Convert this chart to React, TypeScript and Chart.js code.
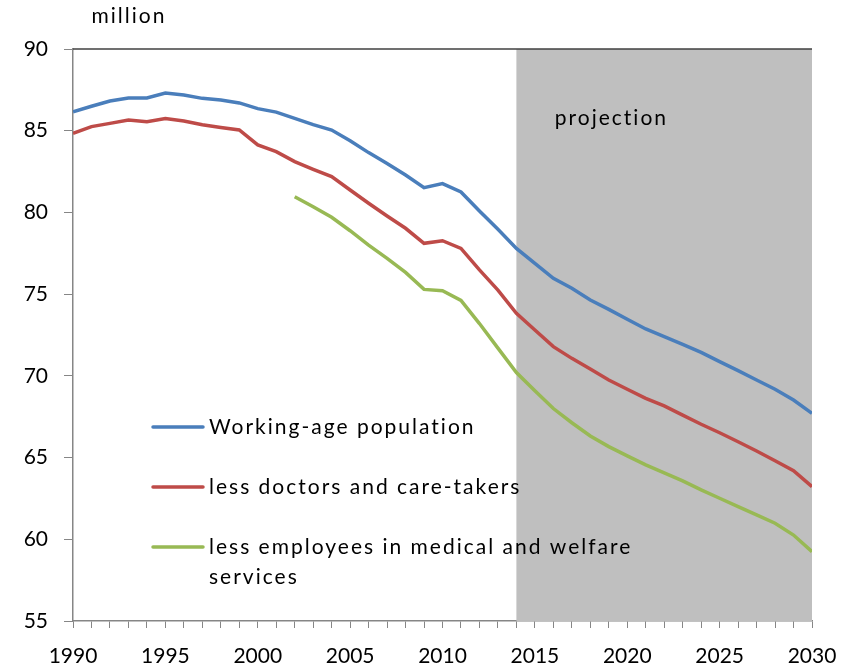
import React, { useEffect, useRef } from "react";
import { Chart, registerables } from "chart.js";

Chart.register(...registerables);

const years: number[] = [];
for (let y = 1990; y <= 2030; y++) years.push(y);

const workingAge = [
  86.16, 86.5, 86.82, 87.0, 87.0, 87.3, 87.19, 86.98, 86.88, 86.7,
  86.35, 86.14, 85.76, 85.37, 85.04, 84.39, 83.66, 83.0, 82.29, 81.51,
  81.76, 81.25, 80.09, 78.97, 77.8, 76.88, 75.97, 75.36, 74.64, 74.07,
  73.46, 72.87, 72.4, 71.93, 71.44, 70.87, 70.32, 69.75, 69.18, 68.52, 67.71,
];
const lessDoctors = [
  84.84, 85.25, 85.45, 85.65, 85.55, 85.74, 85.59, 85.36, 85.2, 85.05,
  84.13, 83.72, 83.11, 82.64, 82.19, 81.37, 80.56, 79.78, 79.03, 78.11,
  78.27, 77.8, 76.48, 75.25, 73.83, 72.81, 71.79, 71.07, 70.42, 69.75,
  69.18, 68.62, 68.16, 67.6, 67.04, 66.52, 65.97, 65.4, 64.81, 64.2, 63.22,
];
const lessEmployees: (number | null)[] = [
  null, null, null, null, null, null, null, null, null, null,
  null, null, 80.96, 80.35, 79.7, 78.88, 78.0, 77.19, 76.33, 75.29,
  75.21, 74.62, 73.2, 71.7, 70.2, 69.09, 68.0, 67.13, 66.32, 65.67,
  65.1, 64.55, 64.07, 63.57, 63.02, 62.51, 62.0, 61.49, 60.98, 60.26, 59.24,
];

const seriesLabels = [
  "Working-age population",
  "less doctors and care-takers",
  "less employees in medical and welfare",
];
const seriesLabelExtra = "services";
const seriesColors = ["#4a7ebb", "#be4b48", "#98b954"];
const projectionStart = 2014;
const projectionEnd = 2030;
const projectionLabel = "projection";
const unitLabel = "million";

const FONT = "Lato, 'Open Sans', sans-serif";

export default function App() {
  const ref = useRef<HTMLCanvasElement | null>(null);
  useEffect(() => {
    if (!ref.current) return;
    const mk = (vals: (number | null)[]) =>
      years.map((y, i) => ({ x: y, y: vals[i] as number })).filter((p) => p.y !== null);

    const bgPlugin = {
      id: "projection",
      beforeDatasetsDraw(chart: any) {
        const { ctx, chartArea, scales } = chart;
        const x0 = scales.x.getPixelForValue(projectionStart);
        const x1 = scales.x.getPixelForValue(projectionEnd);
        ctx.save();
        ctx.fillStyle = "#bfbfbf";
        ctx.fillRect(x0, chartArea.top, x1 - x0, chartArea.bottom - chartArea.top);
        ctx.fillStyle = "#000";
        ctx.font = `21px ${FONT}`;
        (ctx as any).letterSpacing = "2px";
        ctx.textAlign = "center";
        ctx.textBaseline = "middle";
        ctx.fillText(projectionLabel, x0 + 95, chartArea.top + 69);
        // top border
        ctx.strokeStyle = "#404040";
        ctx.lineWidth = 1.5;
        ctx.beginPath();
        ctx.moveTo(chartArea.left, chartArea.top);
        ctx.lineTo(chartArea.right, chartArea.top);
        ctx.stroke();
        ctx.restore();
      },
      afterDraw(chart: any) {
        const { ctx, chartArea } = chart;
        ctx.save();
        ctx.font = `21px ${FONT}`;
        (ctx as any).letterSpacing = "2px";
        ctx.fillStyle = "#000";
        ctx.textAlign = "center";
        ctx.textBaseline = "middle";
        ctx.fillText(unitLabel, chartArea.left + 56, 16);
        // legend
        const lx = chartArea.left + 80;
        const rows = [427, 487, 547];
        ctx.textAlign = "left";
        rows.forEach((ry, i) => {
          ctx.strokeStyle = seriesColors[i];
          ctx.lineWidth = 3.5;
          ctx.lineCap = "round";
          ctx.beginPath();
          ctx.moveTo(lx, ry);
          ctx.lineTo(lx + 50, ry);
          ctx.stroke();
          ctx.fillStyle = "#000";
          ctx.fillText(seriesLabels[i], lx + 56, ry);
        });
        ctx.fillText(seriesLabelExtra, lx + 56, 577);
        ctx.restore();
      },
    };

    const chart = new Chart(ref.current, {
      type: "line",
      data: {
        datasets: [
          { label: seriesLabels[0], data: mk(workingAge), borderColor: seriesColors[0], borderWidth: 3.5, pointRadius: 0, tension: 0 },
          { label: seriesLabels[1], data: mk(lessDoctors), borderColor: seriesColors[1], borderWidth: 3.5, pointRadius: 0, tension: 0 },
          { label: seriesLabels[2], data: mk(lessEmployees), borderColor: seriesColors[2], borderWidth: 3.5, pointRadius: 0, tension: 0 },
        ],
      },
      options: {
        animation: false,
        responsive: false,
        maintainAspectRatio: false,
        layout: { padding: { top: 49, right: 38, left: 0, bottom: 0 } },
        plugins: { legend: { display: false }, tooltip: { enabled: false } },
        scales: {
          x: {
            type: "linear",
            min: 1990,
            max: 2030,
            afterFit: (s: any) => { s.height = 49; s.paddingLeft = 0; s.paddingRight = 0; },
            ticks: {
              stepSize: 1,
              autoSkip: false,
              maxRotation: 0,
              padding: 16,
              color: "#000",
              font: { family: FONT, size: 21 },
              callback: (v: any) => (Number(v) % 5 === 0 ? String(v) : ""),
            },
            grid: { drawOnChartArea: false, drawTicks: true, tickLength: 7, color: "#868686" },
            border: { color: "#868686", width: 1.5 },
          },
          y: {
            min: 55,
            max: 90,
            afterFit: (s: any) => { s.width = 73; },
            ticks: {
              stepSize: 5,
              padding: 16,
              color: "#000",
              font: { family: FONT, size: 21 },
            },
            grid: { drawOnChartArea: false, drawTicks: true, tickLength: 9, color: "#868686" },
            border: { color: "#868686", width: 1.5 },
          },
        },
      },
      plugins: [bgPlugin],
    });
    return () => chart.destroy();
  }, []);
  return (
    <div style={{ position: "fixed", left: 0, top: 0, width: 850, height: 670, background: "#fff" }}>
      <canvas ref={ref} width={850} height={670} style={{ width: 850, height: 670 }} />
    </div>
  );
}
